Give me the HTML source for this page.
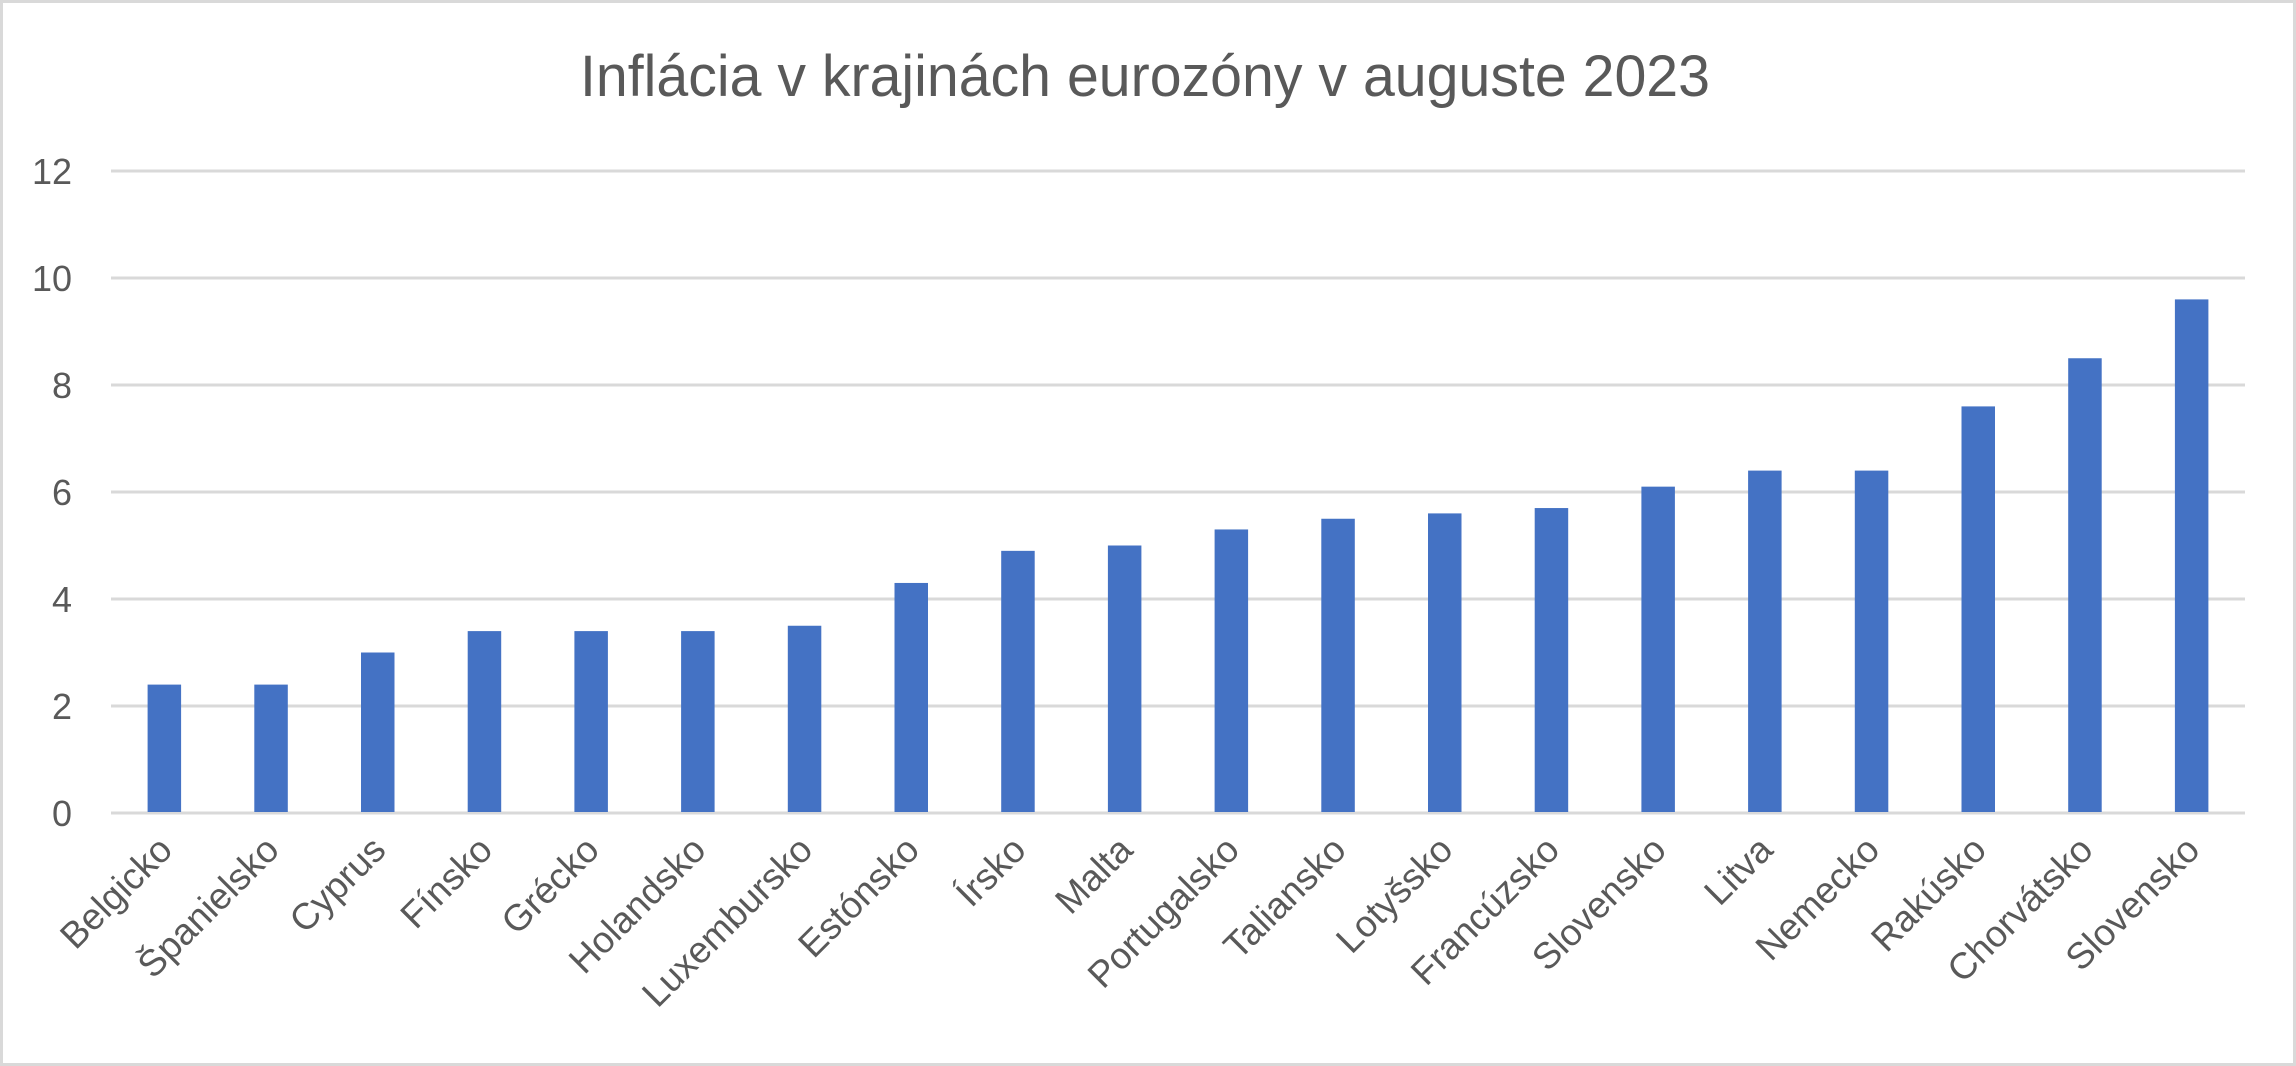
<!DOCTYPE html>
<html><head><meta charset="utf-8"><style>
html,body{margin:0;padding:0;background:#fff;}
svg{display:block;font-family:"Segoe UI","Liberation Sans",sans-serif;}
</style></head><body>
<svg id="chart" width="2296" height="1066" viewBox="0 0 2296 1066">
<rect x="1.5" y="1.5" width="2293" height="1063" fill="#fff" stroke="#d9d9d9" stroke-width="3"/>
<text x="1145" y="96" text-anchor="middle" font-size="58" fill="#595959" textLength="1130" lengthAdjust="spacingAndGlyphs">Inflácia v krajinách eurozóny v auguste 2023</text>
<g id="grid"></g><g id="bars"></g><g id="ylabels"></g><g id="xlabels"></g>
</svg>
<script>
const categories = ["Belgicko","Španielsko","Cyprus","Fínsko","Grécko","Holandsko","Luxembursko","Estónsko","Írsko","Malta","Portugalsko","Taliansko","Lotyšsko","Francúzsko","Slovensko","Litva","Nemecko","Rakúsko","Chorvátsko","Slovensko"];
const values = [2.4,2.4,3.0,3.4,3.4,3.4,3.5,4.3,4.9,5.0,5.3,5.5,5.6,5.7,6.1,6.4,6.4,7.6,8.5,9.6];
const yTicks = [0,2,4,6,8,10,12];

const NS="http://www.w3.org/2000/svg";
const L=111,R=2245,T=171,B=813,yMax=12;
const bw=(R-L)/categories.length;
const y=v=>B-(v/yMax)*(B-T);
const x=i=>L+bw*(i+0.5);
function mk(tag,attrs,parent){const e=document.createElementNS(NS,tag);for(const k in attrs)e.setAttribute(k,attrs[k]);document.getElementById(parent).appendChild(e);return e;}

yTicks.forEach(t=>{
  const g=mk('line',{x1:L,x2:R,y1:y(t),y2:y(t),stroke:'#d9d9d9','stroke-width':3},'grid');
  
  
  const lb=mk('text',{x:72,y:y(t)+13,'text-anchor':'end','font-size':36,fill:'#595959'},'ylabels');
  lb.textContent=t;
  
  
});
const barW=33.5;
values.forEach((v,i)=>{
  const r=mk('rect',{x:x(i)-barW/2,y:y(v),width:barW,height:B-y(v)-1,fill:'#4472c4'},'bars');
  
  
});
categories.forEach((c,i)=>{
  const ax=x(i)+10, ay=852;
  const t=mk('text',{x:ax,y:ay,'text-anchor':'end','font-size':37,fill:'#595959',transform:`rotate(-45 ${ax} ${ay})`},'xlabels');
  t.textContent=c;
  
  
});
</script>
</body></html>
